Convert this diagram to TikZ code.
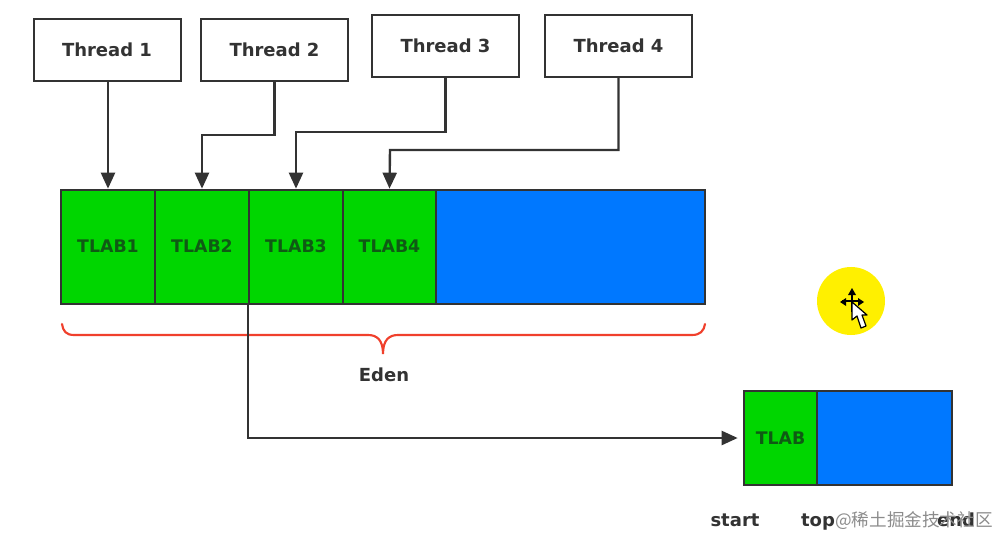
\documentclass[tikz,border=0pt]{standalone}
\usepackage{fontspec}
\setmainfont{DejaVu Sans}
\newfontfamily\cjkwm{Noto Sans CJK SC}
\usetikzlibrary{arrows.meta,calc}
\definecolor{lineC}{HTML}{333333}
\definecolor{greenC}{HTML}{00D600}
\definecolor{blueC}{HTML}{0078FF}
\definecolor{yellowC}{HTML}{FFF000}
\definecolor{redC}{HTML}{F0402C}
\definecolor{txtC}{HTML}{333333}
\definecolor{tlabC}{HTML}{0F5A14}
\newlength{\pxu}\setlength{\pxu}{0.75pt}
\tikzset{
  x=0.75pt,y=-0.75pt,
  threadbox/.style={draw=lineC,line width=1.5pt,fill=white,minimum width=147\pxu,minimum height=62\pxu,inner sep=0pt,text=txtC,font=\fontsize{13.5}{16}\selectfont\bfseries},
  cell/.style={draw=lineC,line width=2pt,fill=greenC,minimum height=114\pxu,inner sep=0pt,text=tlabC,font=\fontsize{13}{15}\selectfont\bfseries},
  bluecell/.style={cell,fill=blueC},
  conn/.style={draw=lineC,line width=1.8pt,-{Triangle[length=12pt,width=10.5pt]}},
  lab/.style={text=txtC,inner sep=0pt,anchor=base,font=\fontsize{13.5}{15}\selectfont\bfseries},
  brace/.style={draw=redC,line width=1.6pt,line cap=round}
}
\begin{document}
\begin{tikzpicture}
\useasboundingbox[fill=white] (0,0) rectangle (999,538);
% threads
\node[threadbox] (t1) at (107,50) {\raisebox{-1.5\pxu}{Thread 1}};
\node[threadbox] (t2) at (274.5,50) {\raisebox{-1.5\pxu}{Thread 2}};
\node[threadbox] (t3) at (445.5,46) {\raisebox{-1.5\pxu}{Thread 3}};
\node[threadbox] (t4) at (618.5,46) {\raisebox{-1.5\pxu}{Thread 4}};
% Eden bar
\node[bluecell,minimum width=269\pxu] (rest) at (570.5,247) {};
\node[cell,minimum width=94\pxu] (l1) at (108,247) {\raisebox{1.5\pxu}{TLAB1}};
\node[cell,minimum width=94\pxu] (l2) at (202,247) {\raisebox{1.5\pxu}{TLAB2}};
\node[cell,minimum width=94\pxu] (l3) at (296,247) {\raisebox{1.5\pxu}{TLAB3}};
\node[cell,minimum width=93\pxu] (l4) at (389.5,247) {\raisebox{1.5\pxu}{TLAB4}};
% connectors
\coordinate (b2) at (202,135);
\coordinate (b3) at (296,132);
\coordinate (b4) at (390,150);
\coordinate (tr) at (248,304);
\draw[conn] (t1.south -| l1.north) -- (l1.north);
\draw[conn] (t2.south) |- (b2) -- (l2.north);
\draw[conn] (t3.south) |- (b3) -- (l3.north);
\draw[conn] (t4.south) |- (b4) -- (l4.north);
% brace
\coordinate (bl) at (62,324);
\coordinate (br) at (705,324);
\coordinate (bm) at (383,354);
\draw[brace] (bl) .. controls (63,331) and (66,335) .. (74,335) -- (368,335)
  .. controls (377,335) and (383,340) .. (bm)
  .. controls (383,340) and (389,335) .. (398,335) -- (692,335)
  .. controls (700,335) and (704,331) .. (br);
\node[lab] (eden) at (384,381) {Eden};
% small TLAB
\node[bluecell,minimum width=135\pxu,minimum height=94\pxu] (srest) at (884.5,438) {};
\node[cell,minimum width=73\pxu,minimum height=94\pxu] (stlab) at (780.5,438) {TLAB};
\draw[conn,shorten >=5\pxu] (tr) |- (stlab.west);
% labels
\node[lab] (start) at (735,526) {start};
\node[lab] (top) at (818,526) {top};
\node[lab] (end) at (956,526) {end};
\node[inner sep=0pt,anchor=east,text=black!45,font=\fontsize{13.2}{15}\cjkwm] (wm) at (993,521) {@稀土掘金技术社区};
% cursor highlight
\fill[yellowC] (851,301) circle (34);
\begin{scope}[draw=black,line width=1.2pt]
  \draw (842,301) -- (861,301);
  \draw (852,292) -- (852,312);
  \fill (852,288) -- (848,295) -- (856,295) -- cycle;
  \fill (840,302) -- (846,298) -- (846,306) -- cycle;
  \fill (864,302) -- (858,298) -- (858,306) -- cycle;
\end{scope}
\draw[fill=white,draw=black,line width=0.9pt,line join=round] (852,302) -- (852,320) -- (857,316) -- (861,328) -- (866,326) -- (862,315) -- (867,315) -- cycle;
\end{tikzpicture}
\end{document}
